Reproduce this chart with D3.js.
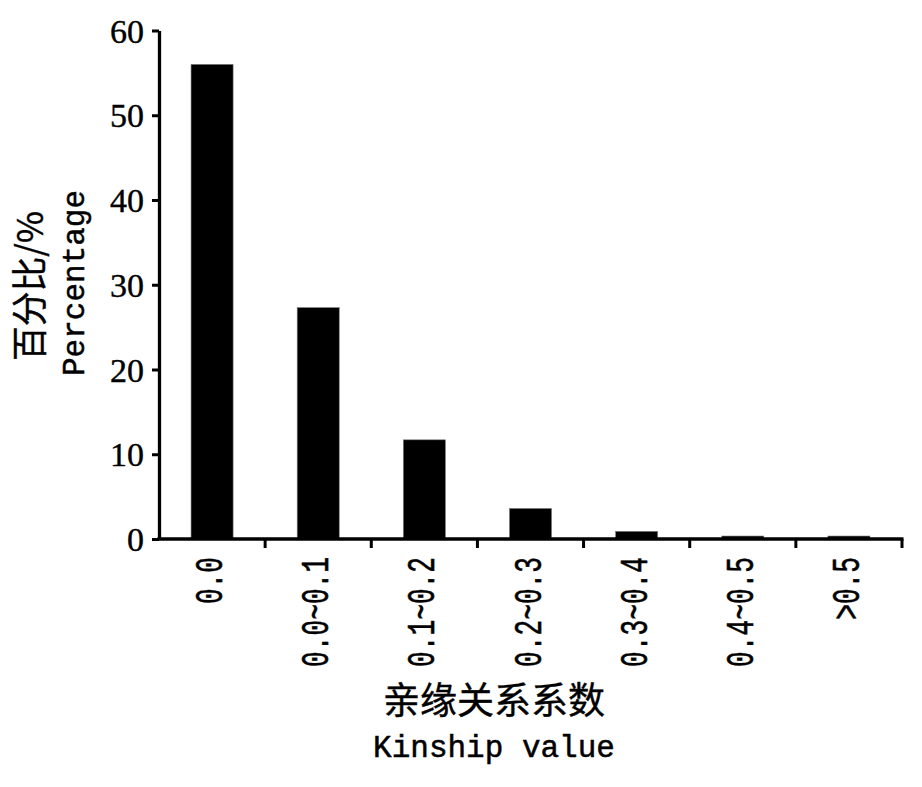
<!DOCTYPE html>
<html><head><meta charset="utf-8">
<script src="https://cdn.jsdelivr.net/npm/d3@7/dist/d3.min.js"></script>
<style>body{margin:0;background:#fff}svg{display:block}</style>
</head><body>
<svg id="c" width="922" height="787"></svg>
<script>
const categories = ["0.0", "0.0~0.1", "0.1~0.2", "0.2~0.3", "0.3~0.4", "0.4~0.5", ">0.5"];
const values = [56.0, 27.3, 11.7, 3.6, 0.9, 0.35, 0.35];
const yTicks = [0, 10, 20, 30, 40, 50, 60];
const yTitleZh = "百分比/%";
const yTitleEn = "Percentage";
const xTitleZh = "亲缘关系系数";
const xTitleEn = "Kinship value";

const svg = d3.select("#c");
const x = d3.scaleBand().domain(categories).range([159, 902]).paddingInner(0.604).paddingOuter(0.302);
const y = d3.scaleLinear().domain([0, 60]).range([539, 30.5]);

// bars
svg.append("g").selectAll("rect").data(values).join("rect")
  .attr("x", (d, i) => x(categories[i]))
  .attr("width", x.bandwidth())
  .attr("y", d => y(d))
  .attr("height", d => y(0) - y(d))
  .attr("fill", "#000").attr("stroke", "#777").attr("stroke-width", 0.6);

// y axis
const ya = svg.append("g").attr("transform", "translate(159,0)")
  .call(d3.axisLeft(y).tickValues(yTicks).tickSize(7).tickSizeOuter(0).tickPadding(8));
ya.select(".domain").attr("stroke", "#000").attr("stroke-width", 3.3);
ya.selectAll(".tick line").attr("stroke", "#000").attr("stroke-width", 3);
ya.selectAll(".tick text").attr("font-family", "'Liberation Serif', serif").attr("font-size", 34)
  .attr("fill", "#000").attr("stroke", "#000").attr("stroke-width", 0.4).attr("dy", "0.34em");

// x axis line
const step = x.step(), gap = step - x.bandwidth();
const bounds = categories.map(c => x(c) - gap / 2).concat([x(categories[categories.length - 1]) + x.bandwidth() + gap / 2]);
svg.append("line").attr("x1", 157.4).attr("x2", bounds[bounds.length - 1] + 1.5)
  .attr("y1", y(0)).attr("y2", y(0)).attr("stroke", "#000").attr("stroke-width", 3.3);
svg.append("g").selectAll("line").data(bounds.slice(1)).join("line")
  .attr("x1", d => d).attr("x2", d => d).attr("y1", y(0)).attr("y2", y(0) + 9)
  .attr("stroke", "#000").attr("stroke-width", 3);

// x tick labels (rotated)
svg.append("g").selectAll("text").data(categories).join("text")
  .attr("transform", d => `translate(${x(d) + x.bandwidth() / 2 + 10},557) rotate(-90)`)
  .attr("text-anchor", "end")
  .attr("font-family", "'Liberation Mono', monospace").attr("font-size", 38)
  .attr("textLength", d => d.length * 15.7).attr("lengthAdjust", "spacingAndGlyphs")
  .attr("fill", "#000").attr("stroke", "#000").attr("stroke-width", 0.6)
  .text(d => d);

// y title
svg.append("text").attr("transform", "translate(43,286) rotate(-90)")
  .attr("text-anchor", "middle").attr("font-family", "'Noto Sans CJK SC', sans-serif")
  .attr("font-size", 36).attr("textLength", 150).attr("lengthAdjust", "spacingAndGlyphs")
  .attr("fill", "#000").attr("stroke", "#000").attr("stroke-width", 0.4).text(yTitleZh);
svg.append("text").attr("transform", "translate(84,283) rotate(-90)")
  .attr("text-anchor", "middle").attr("font-family", "'Liberation Mono', monospace")
  .attr("font-size", 31).attr("fill", "#000").attr("stroke", "#000").attr("stroke-width", 0.5)
  .text(yTitleEn);

// x title
svg.append("text").attr("x", 494).attr("y", 714)
  .attr("text-anchor", "middle").attr("font-family", "'Noto Sans CJK SC', sans-serif")
  .attr("font-size", 37).attr("fill", "#000").attr("stroke", "#000").attr("stroke-width", 0.4)
  .text(xTitleZh);
svg.append("text").attr("x", 494).attr("y", 757)
  .attr("text-anchor", "middle").attr("font-family", "'Liberation Mono', monospace")
  .attr("font-size", 31).attr("fill", "#000").attr("stroke", "#000").attr("stroke-width", 0.5)
  .text(xTitleEn);
</script>
</body></html>
